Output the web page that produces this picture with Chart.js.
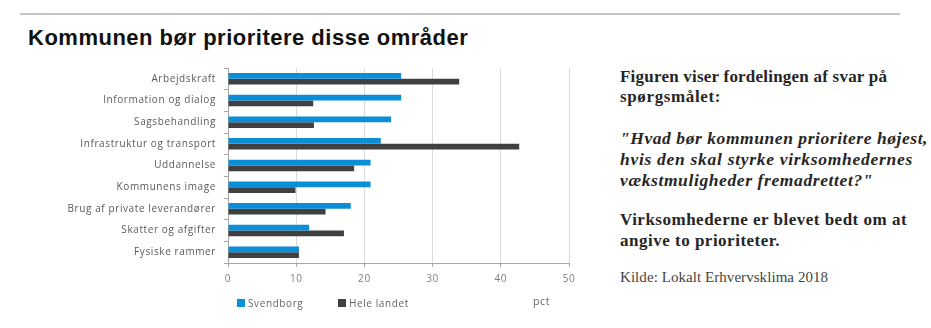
<!DOCTYPE html>
<html><head><meta charset="utf-8">
<script src="https://cdn.jsdelivr.net/npm/chart.js@4.4.1/dist/chart.umd.min.js"></script>
<style>
html,body{margin:0;padding:0;background:#fff;width:931px;height:328px;overflow:hidden;position:relative}
#rule{position:absolute;left:20px;top:13px;width:880px;height:2px;background:#c4c4c4}
#title{position:absolute;left:28px;top:25px;font:bold 22px "Liberation Sans",Arial,sans-serif;letter-spacing:0.5px;color:#111;white-space:nowrap}
#wrap{position:absolute;left:0;top:0;width:600px;height:328px}
.side{position:absolute;left:620px;white-space:nowrap;color:#262626;font-family:"Liberation Serif",serif;font-size:17px;line-height:20px;font-weight:bold}
.side.it{font-style:italic;font-size:17.5px}
.side.src{font-weight:normal;font-size:15px;color:#444}
.leg{position:absolute;top:296px;font:10px "Open Sans",sans-serif;letter-spacing:0.6px;color:#666;white-space:nowrap;line-height:14px}
.leg i{display:inline-block;width:8px;height:8px;margin-right:3px;vertical-align:-0px}
#pct{position:absolute;left:533px;top:294px;font:10.5px "Open Sans",sans-serif;letter-spacing:0.6px;color:#666}
</style>
</head><body>
<div id="rule"></div>
<div id="title">Kommunen bør prioritere disse områder</div>
<div id="wrap"><canvas id="c" width="600" height="328"></canvas></div>
<div class="leg" style="left:237px"><i style="background:#0b8ed8"></i>Svendborg</div>
<div class="leg" style="left:338px"><i style="background:#404040"></i>Hele landet</div>
<div id="pct">pct</div>
<div class="side" data-w="267" style="top:67px">Figuren viser fordelingen af svar på</div>
<div class="side" data-w="101" style="top:87px">spørgsmålet:</div>
<div class="side it" data-w="308" style="top:128px">"Hvad bør kommunen prioritere højest,</div>
<div class="side it" data-w="293" style="top:149px">hvis den skal styrke virksomhedernes</div>
<div class="side it" data-w="253" style="top:170px">vækstmuligheder fremadrettet?"</div>
<div class="side" data-w="287" style="top:210px">Virksomhederne er blevet bedt om at</div>
<div class="side" data-w="160" style="top:231px">angive to prioriteter.</div>
<div class="side src" data-w="208" style="top:267px">Kilde: Lokalt Erhvervsklima 2018</div>
<script>
const categories = ["Arbejdskraft","Information og dialog","Sagsbehandling","Infrastruktur og transport","Uddannelse","Kommunens image","Brug af private leverandører","Skatter og afgifter","Fysiske rammer"];
const svendborg = [25.4, 25.4, 23.9, 22.4, 20.9, 20.9, 18.0, 11.9, 10.4];
const heleLandet = [33.9, 12.5, 12.6, 42.7, 18.5, 9.9, 14.3, 17.0, 10.4];
const xTicks = [0, 10, 20, 30, 40, 50];
const seriesNames = ["Svendborg", "Hele landet"];

// fit side text widths
document.querySelectorAll('.side').forEach(el => {
  const target = +el.dataset.w;
  const w = el.getBoundingClientRect().width;
  const n = el.textContent.length;
  el.style.letterSpacing = ((target - w) / n).toFixed(2) + 'px';
});

const spacing = {
  id: 'spacing',
  beforeInit(chart){ chart.ctx.letterSpacing = '0.6px'; },
  beforeUpdate(chart){ chart.ctx.letterSpacing = '0.6px'; },
  beforeDraw(chart){ chart.ctx.letterSpacing = '0.6px'; }
};

new Chart(document.getElementById('c'), {
  type: 'bar',
  data: {
    labels: categories,
    datasets: [
      {label: seriesNames[0], data: svendborg, backgroundColor: '#0b8ed8', categoryPercentage: 0.53, barPercentage: 1.0},
      {label: seriesNames[1], data: heleLandet, backgroundColor: '#404040', categoryPercentage: 0.53, barPercentage: 1.0}
    ]
  },
  plugins: [spacing],
  options: {
    indexAxis: 'y',
    responsive: false,
    animation: false,
    layout: {padding: {left: 0, right: 31, top: 68, bottom: 0}},
    plugins: {legend: {display: false}, tooltip: {enabled: false}},
    scales: {
      x: {
        min: 0, max: 50,
        afterBuildTicks(s){ s.ticks = xTicks.map(v => ({value: v})); },
        afterFit(s){ s.height = 65; },
        grid: {color: '#dadada', tickColor: '#a6a6a6', tickLength: 4, lineWidth: 1},
        border: {color: '#a6a6a6', width: 1},
        ticks: {color: '#808080', padding: 6, font: {family: 'Open Sans', size: 10}}
      },
      y: {
        afterFit(s){ s.width = 228; },
        grid: {drawOnChartArea: false, offset: true, tickLength: 4, tickColor: '#a6a6a6'},
        border: {color: '#a6a6a6', width: 1},
        ticks: {color: '#5a5a5a', padding: 8, font: {family: 'Open Sans', size: 10}, autoSkip: false}
      }
    }
  }
});
</script>
</body></html>
